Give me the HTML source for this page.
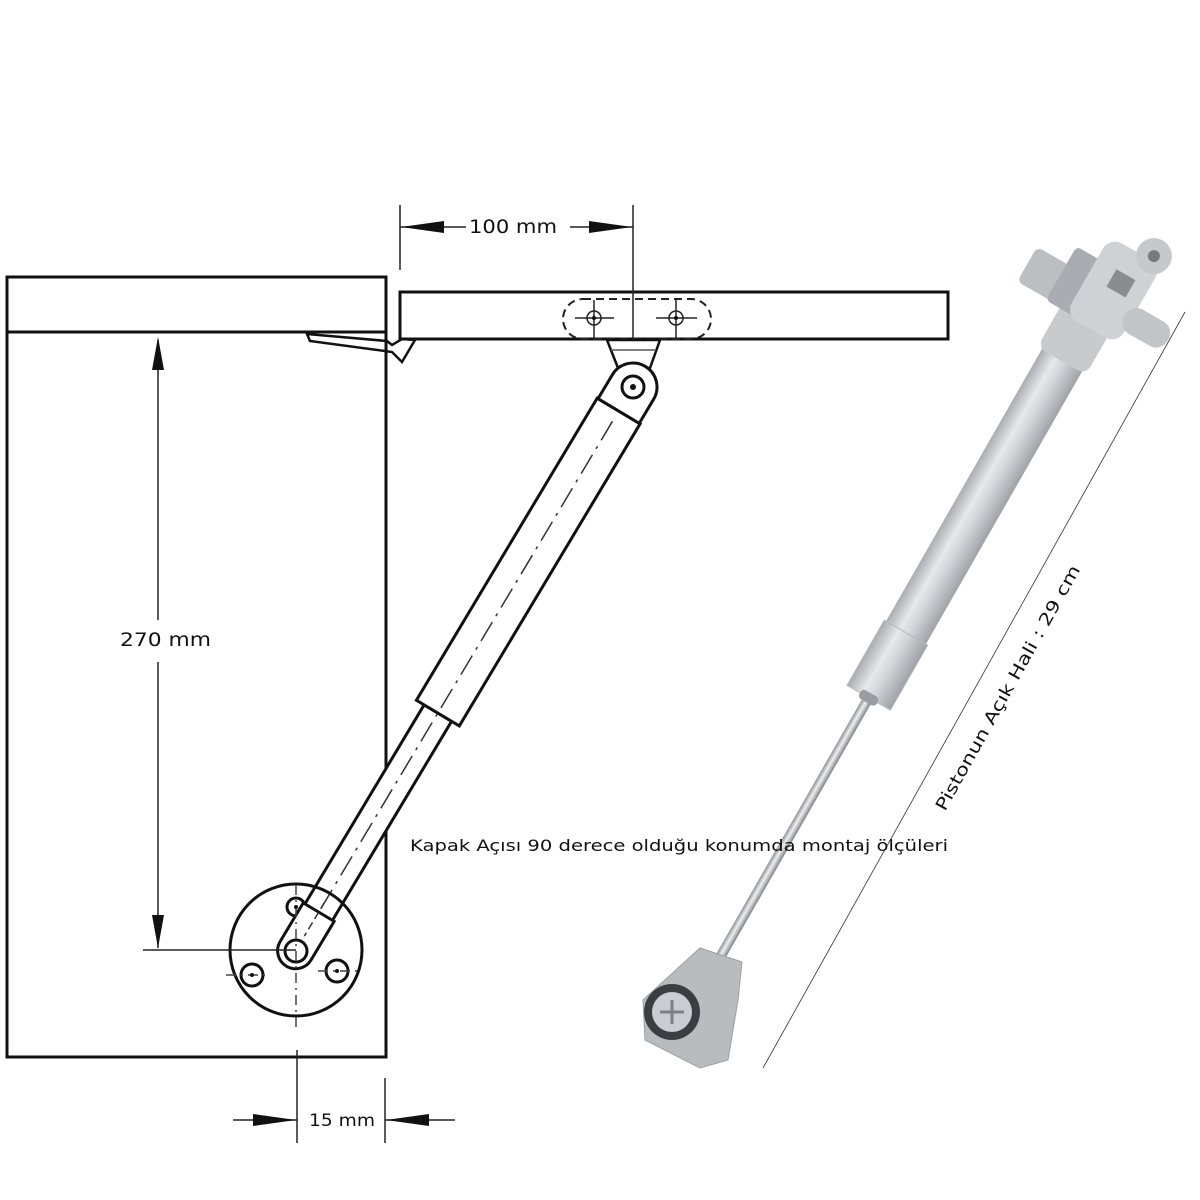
<!DOCTYPE html>
<html><head><meta charset="utf-8"><style>
html,body{margin:0;padding:0;background:#fff;width:1200px;height:1200px;overflow:hidden}
svg{display:block}
text{font-family:"DejaVu Sans","Liberation Sans",sans-serif;fill:#111}
</style></head><body>
<svg width="1200" height="1200" viewBox="0 0 1200 1200" xmlns="http://www.w3.org/2000/svg">
<defs>
<linearGradient id="cyl" x1="0" x2="1" y1="0" y2="0">
<stop offset="0" stop-color="#a9adb1"/><stop offset="0.35" stop-color="#e6e8ea"/><stop offset="0.6" stop-color="#cfd2d5"/><stop offset="1" stop-color="#9ea2a6"/></linearGradient>
<linearGradient id="rod" x1="0" x2="1"><stop offset="0" stop-color="#8c9095"/><stop offset="0.45" stop-color="#eef0f2"/><stop offset="1" stop-color="#7d8186"/></linearGradient>
</defs>
<g fill="none" stroke="#111" stroke-width="3">
<rect x="7" y="277" width="379" height="55"/>
<polyline points="7,332 7,1057 386,1057 386,332"/>
<rect x="400" y="292" width="548" height="47"/>
<path d="M307,334 L310,341 L392,352 L402,362 L415,340 L402,339 L392,345 L387,341 Z" stroke-width="2.5"/>
</g>
<g fill="none" stroke="#222" stroke-width="2" stroke-dasharray="8,5">
<rect x="563" y="299" width="148" height="40" rx="20"/>
</g>
<g stroke="#222" stroke-width="1.5" fill="none">
<circle cx="594" cy="318" r="7"/><circle cx="676" cy="318" r="7"/>
<line x1="575" y1="318" x2="614" y2="318"/><line x1="656" y1="318" x2="697" y2="318"/>
<line x1="594" y1="300" x2="594" y2="338"/><line x1="676" y1="300" x2="676" y2="338"/>
</g>
<circle cx="594" cy="318" r="2" fill="#111"/><circle cx="676" cy="318" r="2" fill="#111"/>
<path d="M607,340 L660,340 L650,368 L618,368 Z" fill="#fff" stroke="#111" stroke-width="2.5"/>
<line x1="611" y1="350" x2="656" y2="350" stroke="#555" stroke-width="1.5"/>
<g transform="translate(633,387) rotate(30.9)" stroke="#111" stroke-width="3" fill="#fff">
<path d="M-16,620 L-16,380 L16,380 L16,620" />
<rect x="-25" y="28" width="50" height="352"/>
<path d="M-24,28 L-24,0 A24,24 0 0 1 24,0 L24,28 Z"/>
<line x1="0" y1="40" x2="0" y2="640" stroke-width="1.5" stroke-dasharray="22,7,3,7" stroke="#333"/>
</g>
<circle cx="633" cy="387" r="11" fill="#fff" stroke="#111" stroke-width="3"/>
<circle cx="633" cy="387" r="3" fill="#111"/>
<circle cx="296" cy="950" r="66" fill="none" stroke="#111" stroke-width="3"/>
<g stroke="#111" stroke-width="3" fill="#fff">
<circle cx="296" cy="907" r="9"/><circle cx="252" cy="975" r="11"/><circle cx="337" cy="971" r="11"/>
</g>
<g transform="translate(633,387) rotate(30.9)" stroke="#111" stroke-width="3" fill="#fff">
<path d="M-18,612 L-18,657 A18,18 0 0 0 18,657 L18,612 Z"/>
<line x1="0" y1="600" x2="0" y2="640" stroke-width="1.5" stroke-dasharray="8,4" stroke="#333"/>
</g>
<circle cx="296" cy="951" r="11" fill="#fff" stroke="#111" stroke-width="3"/>
<g stroke="#444" stroke-width="1.5" stroke-dasharray="10,5,2,5" fill="none">
<line x1="296" y1="885" x2="296" y2="1030"/>
<line x1="226" y1="975" x2="270" y2="975"/><line x1="318" y1="971" x2="360" y2="971"/>
</g>
<circle cx="296" cy="907" r="2" fill="#111"/><circle cx="252" cy="975" r="2" fill="#111"/><circle cx="337" cy="971" r="2" fill="#111"/>
<g stroke="#222" stroke-width="1.5" fill="none">
<line x1="158" y1="340" x2="158" y2="620"/>
<line x1="158" y1="662" x2="158" y2="948"/>
<line x1="143" y1="950" x2="296" y2="950"/>
<line x1="400" y1="205" x2="400" y2="270"/>
<line x1="633" y1="205" x2="633" y2="340"/>
<line x1="400" y1="227" x2="466" y2="227"/>
<line x1="570" y1="227" x2="633" y2="227"/>
<line x1="297" y1="1050" x2="297" y2="1143"/>
<line x1="385" y1="1078" x2="385" y2="1143"/>
<line x1="233" y1="1120" x2="297" y2="1120"/>
<line x1="385" y1="1120" x2="455" y2="1120"/>
</g>
<g fill="#111">
<polygon points="158,337 152,370 164,370"/>
<polygon points="158,948 152,915 164,915"/>
<polygon points="401,227 444,221 444,233"/>
<polygon points="632,227 589,221 589,233"/>
<polygon points="296,1120 253,1114 253,1126"/>
<polygon points="386,1120 429,1114 429,1126"/>
</g>
<text x="120" y="646" font-size="19" textLength="91" lengthAdjust="spacingAndGlyphs">270 mm</text>
<text x="469" y="233" font-size="19" textLength="88" lengthAdjust="spacingAndGlyphs">100 mm</text>
<text x="309" y="1126" font-size="17" textLength="66" lengthAdjust="spacingAndGlyphs">15 mm</text>
<g transform="translate(1065,355) rotate(29.8)">
<rect x="-5" y="395" width="10" height="300" fill="url(#rod)"/>
<rect x="-23" y="0" width="46" height="395" fill="url(#cyl)"/>
<rect x="-25" y="320" width="50" height="75" fill="url(#cyl)" stroke="#b5b8bb" stroke-width="1"/>
<rect x="-10" y="390" width="20" height="10" rx="4" fill="#999da1"/>
<rect x="-28" y="-55" width="56" height="62" rx="10" fill="#c8cbce"/>
<rect x="-78" y="-80" width="48" height="40" rx="6" fill="#bcbfc2"/>
<rect x="-44" y="-100" width="34" height="62" rx="5" fill="#a9acb0"/>
<rect x="-20" y="-125" width="60" height="90" rx="14" fill="#cfd1d4"/>
<circle cx="28" cy="-130" r="18" fill="#c6c9cc"/><circle cx="28" cy="-130" r="6" fill="#77797c"/>
<rect x="2" y="-100" width="22" height="20" fill="#8a8d90"/>
<rect x="32" y="-78" width="50" height="28" rx="13" fill="#c2c5c8"/>
</g>
<path d="M700,948 L742,962 L738,1000 L728,1060 L700,1068 L645,1040 L643,1000 Z" fill="#b9bcbf" stroke="#9da0a3"/>
<circle cx="672" cy="1012" r="28" fill="#3b3d40"/>
<circle cx="672" cy="1012" r="20" fill="#c9ccd0"/>
<path d="M660,1012 L684,1012 M672,1000 L672,1024" stroke="#7c7f83" stroke-width="3"/>
<line x1="1185" y1="312" x2="763" y2="1068" stroke="#333" stroke-width="0.8"/>
<text transform="translate(945,812) rotate(-60.8)" font-size="17" textLength="278" lengthAdjust="spacingAndGlyphs">Pistonun Açık Hali :  29 cm</text>
<text x="410" y="851" font-size="16" textLength="538" lengthAdjust="spacingAndGlyphs">Kapak Açısı 90 derece olduğu konumda montaj ölçüleri</text>
</svg>
</body></html>
